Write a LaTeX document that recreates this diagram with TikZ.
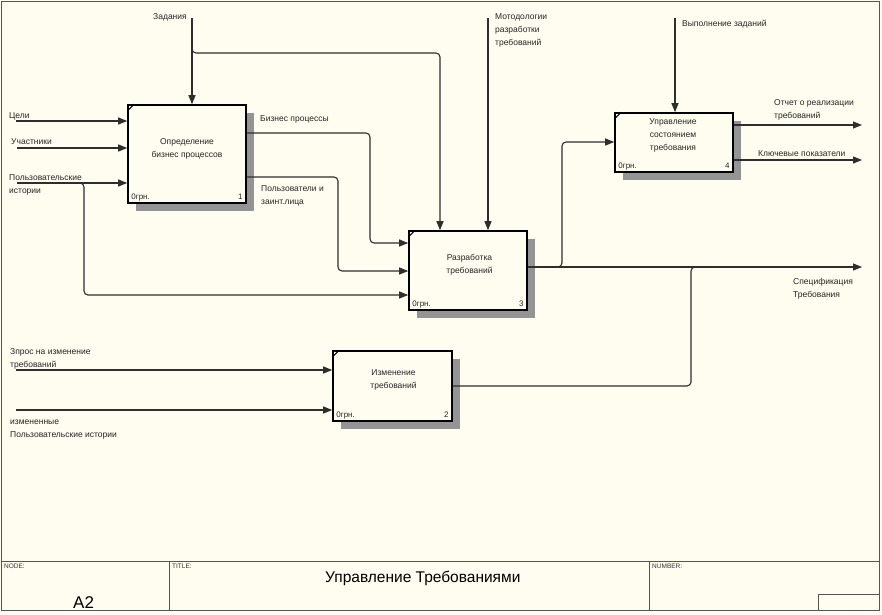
\documentclass[tikz,border=0pt]{standalone}
\usepackage{fontspec}
\setmainfont{Liberation Sans}
\usetikzlibrary{arrows.meta}
\definecolor{bg}{HTML}{FFFCF0}
\definecolor{ln}{HTML}{2E2E2E}
\definecolor{fr}{HTML}{555555}
\begin{document}
\begin{tikzpicture}[x=1pt,y=-1pt,
  idefbox/.style={draw=black, line width=1.6pt, fill=bg, inner sep=0pt},
  shadowfill/.style={fill=black!42},
  lbl/.style={font=\fontsize{8.5}{13}\selectfont, inner sep=0pt, anchor=base west, align=left, text=black!85},
  btxt/.style={font=\fontsize{8.5}{13}\selectfont, inner sep=0pt, anchor=base, align=center, text=black!85},
  ctxt/.style={font=\fontsize{8}{10}\selectfont, inner sep=0pt, text=black!85},
  arr/.style={draw=ln, line width=1.1pt, rounded corners=4pt, -{Triangle[length=9pt,width=7pt]}},
  pipe/.style={draw=ln, line width=1.1pt, rounded corners=4pt},
  frame/.style={draw=fr, line width=1pt},
  ftxt/.style={font=\fontsize{6.5}{8}\selectfont, inner sep=0pt, anchor=base west, text=black!80}
]
\useasboundingbox (0,0) rectangle (882,614);
\fill[bg] (0,0) rectangle (882,614);

% frame and footer
\draw[frame] (1.5,1.5) rectangle (879.5,610.5);
\coordinate (fL) at (1.5,561);
\coordinate (fR) at (879.5,561);
\draw[frame] (fL) -- (fR);
\coordinate (d1) at (169,561);
\coordinate (d2) at (649,561);
\draw[frame] (d1) -- (169,610.5);
\draw[frame] (d2) -- (649,610.5);
\draw[frame] (818,610.5) |- (879.5,594);
\node[ftxt] (nodeL) at (4,568) {NODE:};
\node[ftxt] (titleL) at (172,568) {TITLE:};
\node[ftxt] (numL) at (652,568) {NUMBER:};
\node[font=\fontsize{15.5}{18}\selectfont, inner sep=0pt, anchor=base west] (title) at (325,582) {Управление Требованиями};
\node[font=\fontsize{17}{20}\selectfont, inner sep=0pt, anchor=base west] (nodeid) at (73,608) {A2};

% shadows
\fill[shadowfill] (136,113) rectangle (254,211);
\fill[shadowfill] (417,239) rectangle (535,318);
\fill[shadowfill] (623,121) rectangle (741,180);
\fill[shadowfill] (341,359) rectangle (460,429);

% boxes
\node[idefbox, minimum width=118pt, minimum height=98pt] (b1) at (187,154) {};
\node[idefbox, minimum width=118pt, minimum height=79pt] (b3) at (468,270.5) {};
\node[idefbox, minimum width=118pt, minimum height=59pt] (b4) at (674,142.5) {};
\node[idefbox, minimum width=119pt, minimum height=70pt] (b2) at (392.5,386) {};

\foreach \b/\n in {b1/1,b2/2,b3/3,b4/4}{
  \draw[line width=1pt] ([yshift=-7pt]\b.north west) -- ([xshift=7pt]\b.north west);
  \node[ctxt, anchor=base west] (\b o) at ([xshift=4pt,yshift=4pt]\b.south west) {0грн.};
  \node[ctxt, anchor=base east] (\b n) at ([xshift=-4pt,yshift=4pt]\b.south east) {\n};
}

\node[btxt] (b1t) at (187,157) {Определение\\бизнес процессов};
\node[btxt] (b3t) at (469.5,273) {Разработка\\требований};
\node[btxt] (b4t) at (673,150) {Управление\\состоянием\\требования};
\node[btxt] (b2t) at (393.5,388) {Изменение\\требований};

% controls
\coordinate (zT) at (192,18);
\draw[arr] (zT) -- (zT |- b1.north);
\coordinate (zB) at (192,46);
\coordinate (zJ) at (440,53);
\draw[arr] (zB) |- (zJ) -- (zJ |- b3.north);
\coordinate (mT) at (488,18);
\draw[arr] (mT) -- (mT |- b3.north);
\coordinate (vT) at (675,18);
\draw[arr] (vT) -- (vT |- b4.north);

% inputs to box 1
\coordinate (cL) at (16,121);
\draw[arr] (cL) -- (cL -| b1.west);
\coordinate (uL) at (17,148);
\draw[arr] (uL) -- (uL -| b1.west);
\coordinate (pL) at (17,183);
\draw[arr] (pL) -- (pL -| b1.west);
\coordinate (pB) at (78,183);
\coordinate (pK) at (84,295);
\draw[arr] (pB) -| (pK) -- (pK -| b3.west);

% box 1 outputs to box 3
\coordinate (bp1) at (370,133);
\coordinate (bp2) at (370,243);
\draw[arr] (b1.east |- bp1) -- (bp1) -- (bp2) -- (bp2 -| b3.west);
\coordinate (pu1) at (338,177);
\coordinate (pu2) at (338,271);
\draw[arr] (b1.east |- pu1) -- (pu1) -- (pu2) -- (pu2 -| b3.west);

% box 3 output
\coordinate (sE) at (862,267);
\draw[arr] (b3.east |- sE) -- (sE);
\coordinate (sB) at (555,267);
\coordinate (sK) at (562,142);
\draw[arr] (sB) -| (sK) -- (sK -| b4.west);

% box 2 output joins
\coordinate (jK) at (691,386);
\coordinate (jT) at (691,267);
\coordinate (jE) at (699,267);
\draw[pipe] (b2.east |- jK) -- (jK) -- (jT) -- (jE);

% box 4 outputs
\coordinate (o1E) at (862,125);
\draw[arr] (b4.east |- o1E) -- (o1E);
\coordinate (o2E) at (862,160);
\draw[arr] (b4.east |- o2E) -- (o2E);

% box 2 inputs
\coordinate (zpL) at (16,370);
\draw[arr] (zpL) -- (zpL -| b2.west);
\coordinate (izL) at (16,410);
\draw[arr] (izL) -- (izL -| b2.west);

% labels (anchor = baseline of last line)
\node[lbl] (lZ) at (153,19) {Задания};
\node[lbl] (lM) at (495,45) {Мотодологии\\разработки\\требований};
\node[lbl] (lV) at (682,26) {Выполнение заданий};
\node[lbl] (lC) at (9,118) {Цели};
\node[lbl] (lU) at (11,144) {Участники};
\node[lbl] (lP) at (9,193) {Пользовательские\\истории};
\node[lbl] (lB) at (260,121) {Бизнес процессы};
\node[lbl] (lPU) at (261,204) {Пользователи и\\заинт.лица};
\node[lbl] (lO) at (774,118) {Отчет о реализации\\требований};
\node[lbl] (lK) at (758,156) {Ключевые показатели};
\node[lbl] (lS) at (793,297) {Спецификация\\Требования};
\node[lbl] (lZp) at (10,367) {Зпрос на изменение\\требований};
\node[lbl] (lI) at (10,437) {измененные\\Пользовательские истории};
\end{tikzpicture}
\end{document}
